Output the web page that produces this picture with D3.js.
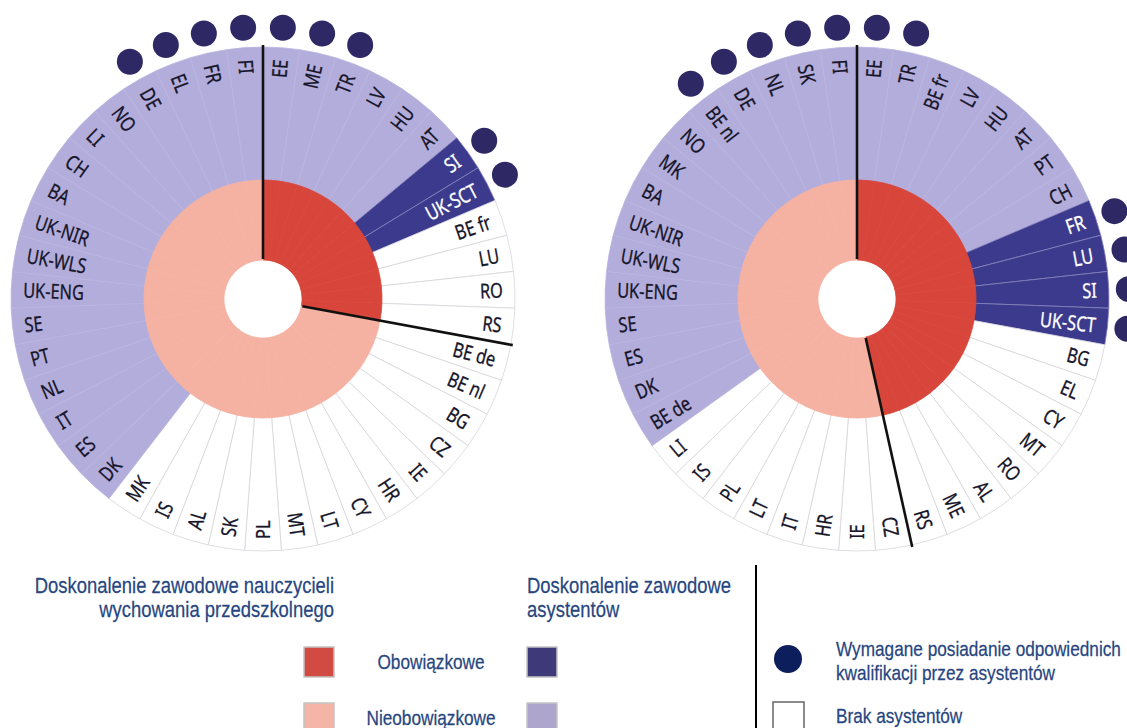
<!DOCTYPE html>
<html>
<head>
<meta charset="utf-8">
<script src="https://cdn.jsdelivr.net/npm/d3@7"></script>
<style>
  body { margin: 0; background: #fff; }
  svg { display: block; }
</style>
</head>
<body>
<svg width="1127" height="728"></svg>
<script>
// Left chart: countries clockwise from 12 o'clock
const leftCountries = ['EE', 'ME', 'TR', 'LV', 'HU', 'AT', 'SI', 'UK-SCT', 'BE fr', 'LU', 'RO', 'RS',
    'BE de', 'BE nl', 'BG', 'CZ', 'IE', 'HR', 'CY', 'LT', 'MT', 'PL', 'SK', 'AL', 'IS', 'MK',
    'DK', 'ES', 'IT', 'NL', 'PT', 'SE', 'UK-ENG', 'UK-WLS', 'UK-NIR', 'BA', 'CH', 'LI', 'NO', 'DE', 'EL', 'FR', 'FI'];
const leftTeacherMandatory = ['EE', 'ME', 'TR', 'LV', 'HU', 'AT', 'SI', 'UK-SCT', 'BE fr', 'LU', 'RO', 'RS'];
const leftAssistantMandatory = ['SI', 'UK-SCT'];
const leftNoAssistants = ['BE fr', 'LU', 'RO', 'RS', 'BE de', 'BE nl', 'BG', 'CZ', 'IE', 'HR', 'CY',
    'LT', 'MT', 'PL', 'SK', 'AL', 'IS', 'MK'];
const leftQualified = ['DE', 'EL', 'FR', 'FI', 'EE', 'ME', 'TR', 'SI', 'UK-SCT'];

// Right chart
const rightCountries = ['EE', 'TR', 'BE fr', 'LV', 'HU', 'AT', 'PT', 'CH', 'FR', 'LU', 'SI', 'UK-SCT',
    'BG', 'EL', 'CY', 'MT', 'RO', 'AL', 'ME', 'RS', 'CZ', 'IE', 'HR', 'IT', 'LT', 'PL', 'IS', 'LI',
    'BE de', 'DK', 'ES', 'SE', 'UK-ENG', 'UK-WLS', 'UK-NIR', 'BA', 'MK', 'NO', 'BE nl', 'DE', 'NL', 'SK', 'FI'];
const rightTeacherMandatory = ['EE', 'TR', 'BE fr', 'LV', 'HU', 'AT', 'PT', 'CH', 'FR', 'LU', 'SI', 'UK-SCT',
    'BG', 'EL', 'CY', 'MT', 'RO', 'AL', 'ME', 'RS'];
const rightAssistantMandatory = ['FR', 'LU', 'SI', 'UK-SCT'];
const rightNoAssistants = ['BG', 'EL', 'CY', 'MT', 'RO', 'AL', 'ME', 'RS', 'CZ', 'IE', 'HR', 'IT', 'LT', 'PL', 'IS', 'LI'];
const rightQualified = ['BE nl', 'DE', 'NL', 'SK', 'FI', 'EE', 'TR', 'FR', 'LU', 'SI', 'UK-SCT'];

const colors = {
    teacherMandatory: '#d8463b',
    teacherOptional: '#f5b2a3',
    assistMandatory: '#3c3a8c',
    assistOptional: '#b3addb',
    none: '#ffffff',
    dot: '#2e2865'
};
const strokes = {
    none: '#d6d6da',
    assistMandatory: '#8581be',
    assistOptional: '#bab4df'
};

const svg = d3.select('svg');
const labelFont = '"Noto Sans", "Open Sans", sans-serif';

const holeR = 39, ringR = 119, outerR = 252, labelR = 240, dotR = 272;

function drawChart(cx, cy, countries, teacherMandatory, assistMandatory, noAssist, qualified) {
    const g = svg.append('g').attr('transform', `translate(${cx},${cy})`);

    const angle = d3.scaleBand()
        .domain(countries)
        .range([0, 2 * Math.PI]);
    const mid = c => angle(c) + angle.bandwidth() / 2;

    const status = c => noAssist.includes(c) ? 'none'
        : assistMandatory.includes(c) ? 'assistMandatory' : 'assistOptional';

    // outer segments (assistants)
    const outerArc = d3.arc()
        .innerRadius(ringR - 2)
        .outerRadius(outerR)
        .startAngle(c => angle(c))
        .endAngle(c => angle(c) + angle.bandwidth());

    g.selectAll('.seg')
        .data(countries)
        .enter()
        .append('path')
        .attr('class', 'seg')
        .attr('d', outerArc)
        .attr('fill', c => colors[status(c)])
        .attr('stroke', c => strokes[status(c)])
        .attr('stroke-width', 0.8);

    // inner ring (teachers)
    const innerArc = d3.arc()
        .innerRadius(holeR)
        .outerRadius(ringR)
        .startAngle(c => angle(c))
        .endAngle(c => angle(c) + angle.bandwidth());

    const teacherColor = c => teacherMandatory.includes(c) ? colors.teacherMandatory : colors.teacherOptional;
    g.selectAll('.inner')
        .data(countries)
        .enter()
        .append('path')
        .attr('class', 'inner')
        .attr('d', innerArc)
        .attr('fill', teacherColor)
        .attr('stroke', teacherColor)
        .attr('stroke-width', 0.8);

    // dividing lines between mandatory / optional teacher groups
    const last = teacherMandatory[teacherMandatory.length - 1];
    const splits = [angle(teacherMandatory[0]), angle(last) + angle.bandwidth()];
    g.selectAll('.split')
        .data(splits)
        .enter()
        .append('line')
        .attr('x1', a => (holeR + 1) * Math.sin(a))
        .attr('y1', a => -(holeR + 1) * Math.cos(a))
        .attr('x2', a => (outerR + 2) * Math.sin(a))
        .attr('y2', a => -(outerR + 2) * Math.cos(a))
        .attr('stroke', '#111')
        .attr('stroke-width', 2.6);

    // country labels
    g.selectAll('.lbl')
        .data(countries)
        .enter()
        .append('text')
        .attr('class', 'lbl')
        .attr('transform', c => {
            const deg = mid(c) * 180 / Math.PI;
            return deg < 180
                ? `rotate(${deg - 90}) translate(${labelR},0) scale(0.8,1)`
                : `rotate(${deg - 90}) translate(${labelR},0) rotate(180) scale(0.8,1)`;
        })
        .attr('text-anchor', c => mid(c) * 180 / Math.PI < 180 ? 'end' : 'start')
        .attr('dy', '0.36em')
        .attr('fill', c => status(c) === 'assistMandatory' ? '#fff' : '#16152a')
        .attr('stroke', c => status(c) === 'assistMandatory' ? '#fff' : '#16152a')
        .attr('stroke-width', 0.3)
        .style('font-family', labelFont)
        .style('font-size', '20.5px')
        .text(c => c);

    // qualification dots
    g.selectAll('.dot')
        .data(qualified)
        .enter()
        .append('circle')
        .attr('cx', c => dotR * Math.sin(mid(c)))
        .attr('cy', c => -dotR * Math.cos(mid(c)))
        .attr('r', 13)
        .attr('fill', colors.dot);
}

drawChart(263, 299, leftCountries, leftTeacherMandatory, leftAssistantMandatory, leftNoAssistants, leftQualified);
drawChart(857, 299, rightCountries, rightTeacherMandatory, rightAssistantMandatory, rightNoAssistants, rightQualified);

// Legend (narrow text made by squeezing Liberation Sans)
const legendFont = '"Liberation Sans", Arial, sans-serif';
const textBlue = '#27467f';
const legend = svg.append('g')
    .style('font-family', legendFont)
    .attr('fill', textBlue);

function legendText(x, y, str, size, anchor) {
    legend.append('text')
        .attr('transform', `translate(${x},${y}) scale(0.82,1)`)
        .attr('text-anchor', anchor || 'start')
        .attr('stroke', textBlue)
        .attr('stroke-width', 0.25)
        .style('font-size', size + 'px')
        .text(str);
}

legendText(334, 593, 'Doskonalenie zawodowe nauczycieli', 22.5, 'end');
legendText(334, 617, 'wychowania przedszkolnego', 22.5, 'end');
legendText(527, 593, 'Doskonalenie zawodowe', 22.5);
legendText(527, 617, 'asystentów', 22.5);

const swatches = [
    { x: 304, y: 647, fill: '#d14b43' },
    { x: 304, y: 703, fill: '#f4b4a6' },
    { x: 527, y: 647, fill: '#3e3a7a' },
    { x: 527, y: 703, fill: '#aea5cd' }
];
legend.selectAll('.sw')
    .data(swatches)
    .enter()
    .append('rect')
    .attr('x', d => d.x)
    .attr('y', d => d.y)
    .attr('width', 30)
    .attr('height', 30)
    .attr('fill', d => d.fill)
    .attr('stroke', '#c4c4c4')
    .attr('stroke-width', 1.5);

legendText(431, 669, 'Obowiązkowe', 21, 'middle');
legendText(431, 725, 'Nieobowiązkowe', 21, 'middle');

svg.append('line')
    .attr('x1', 756).attr('y1', 565).attr('x2', 756).attr('y2', 728)
    .attr('stroke', '#000').attr('stroke-width', 2);

legend.append('circle').attr('cx', 788).attr('cy', 659).attr('r', 14).attr('fill', '#0c1f5c');
legendText(836, 656, 'Wymagane posiadanie odpowiednich', 21);
legendText(836, 680, 'kwalifikacji przez asystentów', 21);

legend.append('rect')
    .attr('x', 773).attr('y', 702).attr('width', 31).attr('height', 32)
    .attr('fill', '#fff').attr('stroke', '#666').attr('stroke-width', 1.5);
legendText(836, 723, 'Brak asystentów', 21);
</script>
</body>
</html>
